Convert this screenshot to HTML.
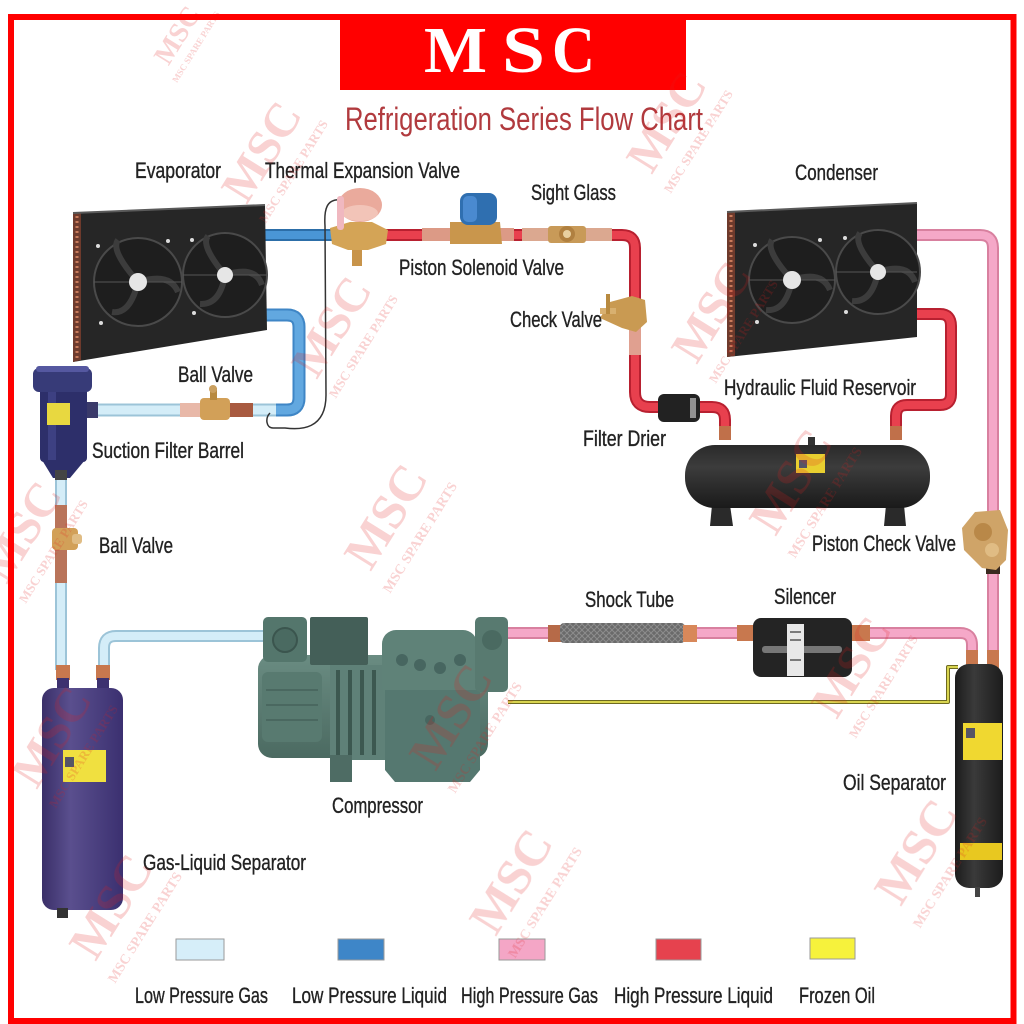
<!DOCTYPE html>
<html><head><meta charset="utf-8"><style>
html,body{margin:0;padding:0;background:#fff;}
svg{display:block;}
.lb{font-family:"Liberation Sans",sans-serif;font-size:22px;fill:#222;stroke:#222;stroke-width:0.35;}
.wm{font-family:"Liberation Serif",serif;font-weight:bold;fill:#e02020;opacity:0.2;}
</style></head><body>
<svg width="1024" height="1024" viewBox="0 0 1024 1024" xmlns="http://www.w3.org/2000/svg">
<defs>
<linearGradient id="gls" x1="0" x2="1" y1="0" y2="0"><stop offset="0" stop-color="#3a2f68"/><stop offset="0.35" stop-color="#5a4f8e"/><stop offset="1" stop-color="#3b3070"/></linearGradient>
<linearGradient id="oil" x1="0" x2="1" y1="0" y2="0"><stop offset="0" stop-color="#1c1c1c"/><stop offset="0.4" stop-color="#3a3a3a"/><stop offset="1" stop-color="#1c1c1c"/></linearGradient>
<linearGradient id="res" x1="0" x2="0" y1="0" y2="1"><stop offset="0" stop-color="#2a2a2a"/><stop offset="0.35" stop-color="#3c3c3c"/><stop offset="1" stop-color="#1a1a1a"/></linearGradient>
<linearGradient id="comp" x1="0" x2="0" y1="0" y2="1"><stop offset="0" stop-color="#6a8c82"/><stop offset="1" stop-color="#4b6a61"/></linearGradient>
<pattern id="braid" width="6" height="6" patternUnits="userSpaceOnUse"><rect width="6" height="6" fill="#6a6a6a"/><path d="M0,6 L6,0 M0,0 L6,6" stroke="#8c8c8c" stroke-width="1"/></pattern>
</defs>
<rect width="1024" height="1024" fill="#fff"/>

<!-- header -->
<rect x="340" y="17" width="346" height="73" fill="#ff0000"/>
<g font-family="Liberation Serif,serif" font-weight="bold" font-size="66" fill="#fff">
<text x="424" y="72" textLength="63" lengthAdjust="spacingAndGlyphs">M</text>
<text x="502" y="72" textLength="43" lengthAdjust="spacingAndGlyphs">S</text>
<text x="552" y="72" textLength="43" lengthAdjust="spacingAndGlyphs">C</text>
</g>
<text x="345" y="130" font-family="Liberation Sans,sans-serif" font-size="32" fill="#b13a3e" textLength="358" lengthAdjust="spacingAndGlyphs">Refrigeration Series Flow Chart</text>

<!-- ============ PIPES ============ -->
<g fill="none" stroke-linecap="butt" stroke-linejoin="round">
<path d="M265,235 H340" stroke="#2c6ea8" stroke-width="12"/>
<path d="M265,235 H340" stroke="#4a96d6" stroke-width="8"/>
<path d="M380,235 H622 Q635,235 635,248 V392 Q635,407 650,407 H665" stroke="#b82030" stroke-width="12"/>
<path d="M380,235 H622 Q635,235 635,248 V392 Q635,407 650,407 H665" stroke="#e8404e" stroke-width="8"/>
<path d="M698,407 H712 Q725,407 725,420 V440" stroke="#b82030" stroke-width="12"/>
<path d="M698,407 H712 Q725,407 725,420 V440" stroke="#e8404e" stroke-width="8"/>
<path d="M915,314 H940 Q951,314 951,326 V394 Q951,405 940,405 H907 Q896,405 896,416 V440" stroke="#b82030" stroke-width="12"/>
<path d="M915,314 H940 Q951,314 951,326 V394 Q951,405 940,405 H907 Q896,405 896,416 V440" stroke="#e8404e" stroke-width="8"/>
<path d="M915,235 H980 Q993,235 993,248 V660" stroke="#d8809f" stroke-width="12"/>
<path d="M915,235 H980 Q993,235 993,248 V660" stroke="#f5a8c8" stroke-width="8"/>
<path d="M505,633 H960 Q972,633 972,645 V660" stroke="#d8809f" stroke-width="12"/>
<path d="M505,633 H960 Q972,633 972,645 V660" stroke="#f5a8c8" stroke-width="8"/>
<path d="M265,636 H116 Q104,636 104,648 V670" stroke="#9cc4d8" stroke-width="12"/>
<path d="M265,636 H116 Q104,636 104,648 V670" stroke="#d4edf8" stroke-width="8"/>
<path d="M61,470 V670" stroke="#9cc4d8" stroke-width="12"/>
<path d="M61,470 V670" stroke="#d4edf8" stroke-width="8"/>
<path d="M92,410 H287 Q299,410 299,398 V327 Q299,315 287,315 H265" stroke="#9cc4d8" stroke-width="13"/>
<path d="M92,410 H287 Q299,410 299,398 V327 Q299,315 287,315 H265" stroke="#d4edf8" stroke-width="9"/>
<path d="M276,410 H287 Q299,410 299,398 V327 Q299,315 287,315 H265" stroke="#3f86c6" stroke-width="13"/>
<path d="M276,410 H287 Q299,410 299,398 V327 Q299,315 287,315 H265" stroke="#62a8e0" stroke-width="9"/>
<path d="M508,702 H948 V667 H958" stroke="#6e6a20" stroke-width="4"/>
<path d="M508,702 H948 V667 H958" stroke="#d8d450" stroke-width="2"/>
<path d="M342,200 C326,198 324,210 325,226 L326,395 C326,430 300,430 285,428 L273,428 C266,428 265,418 270,413" stroke="#333" stroke-width="1.5"/>
</g>

<!-- ============ EVAPORATOR ============ -->
<g>
<polygon points="73,213 265,205 267,330 73,362" fill="#262626"/>
<polygon points="73,213 81,213 81,360 73,362" fill="#6e3a2c"/>
<line x1="77" y1="216" x2="77" y2="358" stroke="#c87a5a" stroke-width="3" stroke-dasharray="2 3"/>
<line x1="73" y1="213" x2="265" y2="205" stroke="#5a5a5a" stroke-width="2"/>
<g stroke="#4a4a4a" fill="#1e1e1e" stroke-width="2">
<circle cx="138" cy="282" r="44"/><circle cx="225" cy="275" r="42"/>
</g>
<g stroke="#3c3c3c" fill="none" stroke-width="6">
<path d="M138,282 Q110,250 118,240"/><path d="M138,282 Q170,272 178,292"/><path d="M138,282 Q130,315 112,312"/>
<path d="M225,275 Q200,245 208,236"/><path d="M225,275 Q255,265 262,285"/><path d="M225,275 Q220,305 200,304"/>
</g>
<g stroke="#555" stroke-width="1"><line x1="94" y1="282" x2="182" y2="282"/><line x1="183" y1="275" x2="267" y2="275"/></g>
<circle cx="138" cy="282" r="9" fill="#e6e6e6"/><circle cx="225" cy="275" r="8" fill="#e6e6e6"/>
<g fill="#ddd"><circle cx="98" cy="246" r="2"/><circle cx="168" cy="241" r="2"/><circle cx="101" cy="323" r="2"/><circle cx="192" cy="240" r="2"/><circle cx="194" cy="313" r="2"/></g>
</g>

<!-- ============ CONDENSER ============ -->
<g>
<polygon points="727,212 917,203 917,337 727,357" fill="#262626"/>
<polygon points="727,212 735,212 735,356 727,357" fill="#6e3a2c"/>
<line x1="731" y1="215" x2="731" y2="354" stroke="#c87a5a" stroke-width="3" stroke-dasharray="2 3"/>
<line x1="727" y1="212" x2="917" y2="203" stroke="#5a5a5a" stroke-width="2"/>
<g stroke="#4a4a4a" fill="#1e1e1e" stroke-width="2">
<circle cx="792" cy="280" r="43"/><circle cx="878" cy="272" r="42"/>
</g>
<g stroke="#3c3c3c" fill="none" stroke-width="6">
<path d="M792,280 Q765,250 772,240"/><path d="M792,280 Q822,270 830,290"/><path d="M792,280 Q786,312 766,310"/>
<path d="M878,272 Q852,243 860,233"/><path d="M878,272 Q908,262 915,282"/><path d="M878,272 Q872,303 852,301"/>
</g>
<g stroke="#555" stroke-width="1"><line x1="749" y1="280" x2="835" y2="280"/><line x1="836" y1="272" x2="917" y2="272"/></g>
<circle cx="792" cy="280" r="9" fill="#e6e6e6"/><circle cx="878" cy="272" r="8" fill="#e6e6e6"/>
<g fill="#ddd"><circle cx="755" cy="245" r="2"/><circle cx="820" cy="240" r="2"/><circle cx="757" cy="322" r="2"/><circle cx="845" cy="238" r="2"/><circle cx="846" cy="312" r="2"/></g>
</g>

<!-- TXV -->
<g>
<rect x="352" y="240" width="10" height="26" fill="#c8944a"/>
<path d="M330,228 L350,222 L372,222 L388,230 L386,244 L368,250 L348,250 L332,244 Z" fill="#d4a456"/>
<ellipse cx="360" cy="205" rx="22" ry="17" fill="#eaaa9c"/>
<ellipse cx="360" cy="213" rx="18" ry="8" fill="#f2c4b8"/>
<rect x="337" y="196" width="7" height="34" rx="3" fill="#f0b8c0"/>
</g>
<!-- solenoid valve -->
<g>
<rect x="422" y="228" width="28" height="13" fill="#dc9a86"/>
<rect x="490" y="228" width="24" height="13" fill="#dc9a86"/>
<path d="M450,222 L500,222 L502,244 L450,244 Z" fill="#c9964c"/>
<rect x="460" y="193" width="37" height="32" rx="8" fill="#2f6fb0"/>
<rect x="463" y="196" width="14" height="26" rx="5" fill="#4a8ad0"/>
</g>
<!-- sight glass -->
<g>
<rect x="522" y="228" width="90" height="13" fill="#dba890"/>
<rect x="548" y="226" width="38" height="17" rx="3" fill="#c89a58"/>
<circle cx="567" cy="234" r="8" fill="#b08040"/><circle cx="567" cy="234" r="4" fill="#e8d0a0"/>
</g>
<!-- check valve -->
<g>
<rect x="629" y="300" width="12" height="55" fill="#e0a090"/>
<path d="M610,302 L632,296 L645,300 L647,322 L636,332 L622,328 L600,318 Z" fill="#c99a52"/>
<rect x="600" y="308" width="16" height="6" fill="#d8b070"/>
<rect x="606" y="294" width="4" height="20" fill="#b88a40"/>
</g>
<!-- filter drier -->
<rect x="658" y="394" width="42" height="28" rx="6" fill="#222"/>
<rect x="690" y="398" width="6" height="20" fill="#ddd" opacity="0.6"/>

<!-- reservoir -->
<g>
<rect x="719" y="426" width="12" height="14" fill="#c0704a"/>
<rect x="890" y="426" width="12" height="14" fill="#c0704a"/>
<rect x="808" y="437" width="7" height="10" fill="#333"/>
<polygon points="712,505 730,505 733,526 710,526" fill="#2a2a2a"/>
<polygon points="886,505 904,505 906,526 884,526" fill="#2a2a2a"/>
<rect x="685" y="445" width="245" height="63" rx="30" fill="url(#res)"/>
<rect x="796" y="454" width="29" height="19" fill="#e8cf30"/>
<rect x="799" y="460" width="8" height="8" fill="#556"/>
</g>

<!-- piston check valve -->
<g>
<rect x="986" y="562" width="14" height="12" fill="#3a2a20"/>
<path d="M975,512 L1000,510 L1008,530 L1006,560 L996,570 L982,568 L964,550 L962,528 Z" fill="#cfa468"/>
<circle cx="983" cy="532" r="9" fill="#b98848"/><circle cx="992" cy="550" r="7" fill="#e0bc84"/>
</g>

<!-- suction filter barrel -->
<g>
<rect x="86" y="402" width="12" height="16" fill="#3a3a6a"/>
<path d="M42,460 L85,460 L70,478 L53,478 Z" fill="#2d2f6a"/>
<rect x="40" y="388" width="47" height="74" rx="4" fill="#2d2f6a"/>
<rect x="48" y="390" width="8" height="70" fill="#3d4082"/>
<rect x="33" y="368" width="59" height="24" rx="6" fill="#373b78"/>
<rect x="36" y="366" width="53" height="6" rx="3" fill="#5558a0"/>
<rect x="47" y="403" width="23" height="22" fill="#e8d840"/>
<rect x="55" y="470" width="12" height="10" fill="#444"/>
</g>
<!-- ball valve top -->
<g>
<rect x="180" y="403" width="22" height="14" fill="#e8b8a8"/>
<rect x="228" y="403" width="25" height="14" fill="#a85a40"/>
<rect x="200" y="398" width="30" height="22" rx="4" fill="#d2a058"/>
<rect x="210" y="388" width="7" height="12" fill="#b88a40"/>
<circle cx="213" cy="389" r="4" fill="#caa060"/>
</g>
<!-- ball valve left -->
<g>
<rect x="55" y="505" width="12" height="78" fill="#b9745a"/>
<rect x="52" y="528" width="26" height="22" rx="4" fill="#d2a058"/>
<rect x="72" y="534" width="10" height="10" rx="3" fill="#e0bc84"/>
</g>

<!-- gas-liquid separator -->
<g>
<rect x="56" y="665" width="14" height="15" fill="#c8784e"/>
<rect x="96" y="665" width="14" height="15" fill="#c8784e"/>
<rect x="57" y="678" width="12" height="14" fill="#3d3270"/>
<rect x="97" y="678" width="12" height="14" fill="#3d3270"/>
<rect x="42" y="688" width="81" height="222" rx="12" fill="url(#gls)"/>
<rect x="63" y="750" width="43" height="32" fill="#f0e040"/>
<rect x="65" y="757" width="9" height="10" fill="#556"/>
<rect x="57" y="908" width="11" height="10" fill="#333"/>
</g>

<!-- compressor -->
<g>
<rect x="258" y="655" width="230" height="103" rx="14" fill="url(#comp)"/>
<rect x="262" y="672" width="60" height="70" rx="6" fill="#587a70"/>
<g stroke="#4a6860" stroke-width="2"><line x1="266" y1="690" x2="318" y2="690"/><line x1="266" y1="705" x2="318" y2="705"/><line x1="266" y1="720" x2="318" y2="720"/></g>
<rect x="330" y="665" width="55" height="95" fill="#5f8178"/>
<g stroke="#3c5850" stroke-width="4"><line x1="338" y1="670" x2="338" y2="755"/><line x1="350" y1="670" x2="350" y2="755"/><line x1="362" y1="670" x2="362" y2="755"/><line x1="374" y1="670" x2="374" y2="755"/></g>
<rect x="263" y="617" width="44" height="45" rx="5" fill="#54766c"/>
<circle cx="285" cy="640" r="12" fill="#4a6a61" stroke="#3b554e" stroke-width="2"/>
<rect x="310" y="617" width="58" height="48" rx="2" fill="#445f58"/>
<rect x="382" y="630" width="95" height="70" rx="14" fill="#5f8278"/>
<path d="M385,690 L480,690 L480,770 L470,782 L395,782 L385,770 Z" fill="#557870"/>
<g fill="#476660"><circle cx="402" cy="660" r="6"/><circle cx="420" cy="665" r="6"/><circle cx="440" cy="668" r="6"/><circle cx="460" cy="660" r="6"/><circle cx="430" cy="720" r="5"/></g>
<rect x="475" y="617" width="33" height="75" rx="5" fill="#587a70"/>
<circle cx="492" cy="640" r="10" fill="#4a6a61"/>
<rect x="330" y="755" width="22" height="27" fill="#4e6c64"/>
</g>

<!-- shock tube -->
<g>
<rect x="548" y="625" width="14" height="17" fill="#b66a48"/>
<rect x="560" y="623" width="125" height="20" rx="4" fill="url(#braid)"/>
<rect x="683" y="625" width="14" height="17" fill="#d8885a"/>
</g>
<!-- silencer -->
<g>
<rect x="737" y="625" width="18" height="16" fill="#c8784e"/>
<rect x="851" y="625" width="19" height="16" fill="#c8784e"/>
<rect x="753" y="618" width="99" height="59" rx="8" fill="#242424"/>
<rect x="762" y="646" width="80" height="7" rx="3" fill="#777"/>
<rect x="787" y="624" width="17" height="52" fill="#e8e8e8"/>
<g stroke="#555" stroke-width="1.5"><line x1="790" y1="632" x2="801" y2="632"/><line x1="790" y1="640" x2="801" y2="640"/><line x1="790" y1="660" x2="801" y2="660"/></g>
</g>
<!-- oil separator -->
<g>
<rect x="966" y="650" width="12" height="18" fill="#c8784e"/>
<rect x="987" y="650" width="12" height="18" fill="#c8784e"/>
<rect x="955" y="664" width="48" height="224" rx="14" fill="url(#oil)"/>
<rect x="963" y="723" width="39" height="37" fill="#f0d830"/>
<rect x="966" y="728" width="9" height="10" fill="#556"/>
<rect x="960" y="843" width="42" height="17" fill="#e8c820"/>
<rect x="975" y="887" width="5" height="10" fill="#444"/>
</g>

<!-- ============ LABELS ============ -->
<g class="lb">
<text x="135" y="178" textLength="86" lengthAdjust="spacingAndGlyphs">Evaporator</text>
<text x="265" y="178" textLength="195" lengthAdjust="spacingAndGlyphs">Thermal Expansion Valve</text>
<text x="531" y="200" textLength="85" lengthAdjust="spacingAndGlyphs">Sight Glass</text>
<text x="795" y="180" textLength="83" lengthAdjust="spacingAndGlyphs">Condenser</text>
<text x="399" y="275" textLength="165" lengthAdjust="spacingAndGlyphs">Piston Solenoid Valve</text>
<text x="510" y="327" textLength="92" lengthAdjust="spacingAndGlyphs">Check Valve</text>
<text x="178" y="382" textLength="75" lengthAdjust="spacingAndGlyphs">Ball Valve</text>
<text x="724" y="395" textLength="192" lengthAdjust="spacingAndGlyphs">Hydraulic Fluid Reservoir</text>
<text x="92" y="458" textLength="152" lengthAdjust="spacingAndGlyphs">Suction Filter Barrel</text>
<text x="583" y="446" textLength="83" lengthAdjust="spacingAndGlyphs">Filter Drier</text>
<text x="99" y="553" textLength="74" lengthAdjust="spacingAndGlyphs">Ball Valve</text>
<text x="812" y="551" textLength="144" lengthAdjust="spacingAndGlyphs">Piston Check Valve</text>
<text x="585" y="607" textLength="89" lengthAdjust="spacingAndGlyphs">Shock Tube</text>
<text x="774" y="604" textLength="62" lengthAdjust="spacingAndGlyphs">Silencer</text>
<text x="332" y="813" textLength="91" lengthAdjust="spacingAndGlyphs">Compressor</text>
<text x="843" y="790" textLength="103" lengthAdjust="spacingAndGlyphs">Oil Separator</text>
<text x="143" y="870" textLength="163" lengthAdjust="spacingAndGlyphs">Gas-Liquid Separator</text>
<text x="135" y="1003" textLength="133" lengthAdjust="spacingAndGlyphs">Low Pressure Gas</text>
<text x="292" y="1003" textLength="155" lengthAdjust="spacingAndGlyphs">Low Pressure Liquid</text>
<text x="461" y="1003" textLength="137" lengthAdjust="spacingAndGlyphs">High Pressure Gas</text>
<text x="614" y="1003" textLength="159" lengthAdjust="spacingAndGlyphs">High Pressure Liquid</text>
<text x="799" y="1003" textLength="76" lengthAdjust="spacingAndGlyphs">Frozen Oil</text>
</g>

<!-- legend swatches -->
<g stroke="#9a9a9a" stroke-width="1">
<rect x="176" y="939" width="48" height="21" fill="#d6eef9"/>
<rect x="338" y="939" width="46" height="21" fill="#3e86c8"/>
<rect x="499" y="939" width="46" height="21" fill="#f4a6c6"/>
<rect x="656" y="939" width="45" height="21" fill="#e6424e"/>
<rect x="810" y="938" width="45" height="21" fill="#f6f23c"/>
</g>

<!-- ============ WATERMARKS ============ -->
<g class="wm">
<g transform="translate(275,160) rotate(-58)"><text x="0" y="0" font-size="48" text-anchor="middle">MSC</text><text x="0" y="26" font-size="13" text-anchor="middle">MSC SPARE PARTS</text></g>
<g transform="translate(680,130) rotate(-58)"><text x="0" y="0" font-size="48" text-anchor="middle">MSC</text><text x="0" y="26" font-size="13" text-anchor="middle">MSC SPARE PARTS</text></g>
<g transform="translate(345,335) rotate(-58)"><text x="0" y="0" font-size="48" text-anchor="middle">MSC</text><text x="0" y="26" font-size="13" text-anchor="middle">MSC SPARE PARTS</text></g>
<g transform="translate(725,320) rotate(-58)"><text x="0" y="0" font-size="48" text-anchor="middle">MSC</text><text x="0" y="26" font-size="13" text-anchor="middle">MSC SPARE PARTS</text></g>
<g transform="translate(400,525) rotate(-58)"><text x="0" y="0" font-size="50" text-anchor="middle">MSC</text><text x="0" y="28" font-size="14" text-anchor="middle">MSC SPARE PARTS</text></g>
<g transform="translate(805,490) rotate(-58)"><text x="0" y="0" font-size="50" text-anchor="middle">MSC</text><text x="0" y="28" font-size="14" text-anchor="middle">MSC SPARE PARTS</text></g>
<g transform="translate(35,540) rotate(-58)"><text x="0" y="0" font-size="48" text-anchor="middle">MSC</text><text x="0" y="26" font-size="13" text-anchor="middle">MSC SPARE PARTS</text></g>
<g transform="translate(465,725) rotate(-58)"><text x="0" y="0" font-size="50" text-anchor="middle">MSC</text><text x="0" y="28" font-size="14" text-anchor="middle">MSC SPARE PARTS</text></g>
<g transform="translate(865,675) rotate(-58)"><text x="0" y="0" font-size="48" text-anchor="middle">MSC</text><text x="0" y="26" font-size="13" text-anchor="middle">MSC SPARE PARTS</text></g>
<g transform="translate(65,745) rotate(-58)"><text x="0" y="0" font-size="48" text-anchor="middle">MSC</text><text x="0" y="26" font-size="13" text-anchor="middle">MSC SPARE PARTS</text></g>
<g transform="translate(125,915) rotate(-58)"><text x="0" y="0" font-size="50" text-anchor="middle">MSC</text><text x="0" y="28" font-size="14" text-anchor="middle">MSC SPARE PARTS</text></g>
<g transform="translate(525,890) rotate(-58)"><text x="0" y="0" font-size="50" text-anchor="middle">MSC</text><text x="0" y="28" font-size="14" text-anchor="middle">MSC SPARE PARTS</text></g>
<g transform="translate(930,860) rotate(-58)"><text x="0" y="0" font-size="50" text-anchor="middle">MSC</text><text x="0" y="28" font-size="14" text-anchor="middle">MSC SPARE PARTS</text></g>
<g transform="translate(185,40) rotate(-58)"><text x="0" y="0" font-size="28" text-anchor="middle">MSC</text><text x="0" y="16" font-size="9" text-anchor="middle">MSC SPARE PARTS</text></g>
</g>

<!-- border -->
<rect x="11" y="17" width="1002.5" height="1004" fill="none" stroke="#ff0000" stroke-width="6"/>
</svg>
</body></html>
